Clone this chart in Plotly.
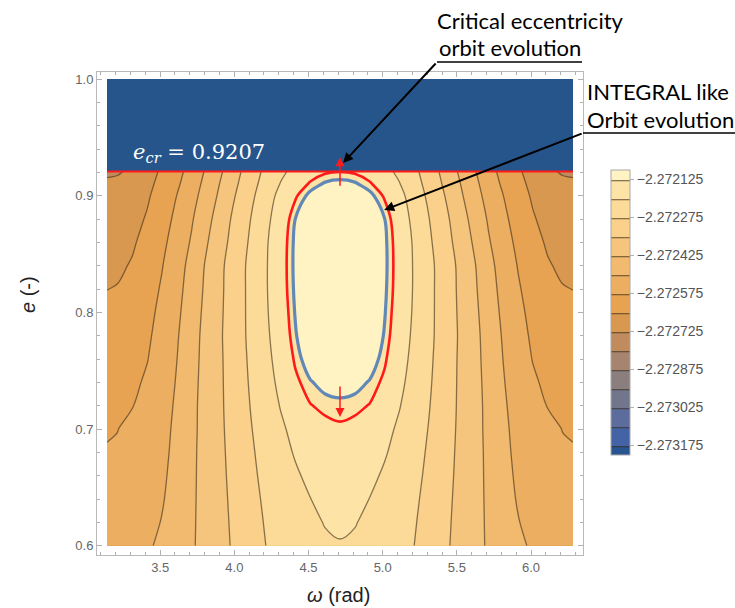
import numpy as np
import plotly.graph_objects as go

# ---------------------------------------------------------------------------
# Averaged orbital energy map H(omega, e) for an INTEGRAL-like orbit.
# The map is symmetric about omega = 3*pi/2, so only the half omega >= 3pi/2
# is tabulated (offset from the symmetry axis); the other half is its mirror.
# Energy is tabulated in contour steps below the top contour value H_MAX.
# ---------------------------------------------------------------------------
E_CRIT = 0.9207
OMEGA_AXIS = 1.5 * np.pi
H_MAX = -2.27205
H_STEP = 0.000075

HALF_OFFSETS = [0.0, 0.1, 0.2, 0.3, 0.4, 0.5, 0.6, 0.7, 0.8, 0.9,
                1.0, 1.1, 1.2, 1.3, 1.4, 1.5, np.pi / 2]

ECC = [0.60, 0.62, 0.64, 0.66, 0.68, 0.70, 0.72, 0.74, 0.76,
       0.78, 0.80, 0.82, 0.84, 0.86, 0.88, 0.90, 0.91, 0.9207]

STEPS_BELOW_MAX = [
    [2.04, 2.08, 2.21, 2.41, 2.68, 3.00, 3.40, 3.82, 4.26, 4.69, 5.10, 5.50, 5.84, 6.11, 6.31, 6.42, 6.44],
    [1.90, 1.975, 2.11, 2.32, 2.60, 2.93, 3.34, 3.78, 4.23, 4.68, 5.12, 5.57, 5.96, 6.28, 6.50, 6.63, 6.65],
    [1.75, 1.82, 2.01, 2.22, 2.51, 2.85, 3.27, 3.73, 4.20, 4.67, 5.14, 5.64, 6.07, 6.41, 6.66, 6.80, 6.82],
    [1.59, 1.65, 1.83, 2.10, 2.40, 2.76, 3.19, 3.67, 4.17, 4.66, 5.16, 5.70, 6.15, 6.49, 6.74, 6.87, 6.90],
    [1.43, 1.49, 1.66, 1.93, 2.26, 2.66, 3.12, 3.62, 4.14, 4.65, 5.18, 5.76, 6.22, 6.56, 6.80, 6.94, 6.97],
    [1.28, 1.34, 1.50, 1.77, 2.13, 2.55, 3.04, 3.57, 4.11, 4.65, 5.21, 5.81, 6.28, 6.63, 6.87, 7.01, 7.04],
    [1.09, 1.13, 1.24, 1.55, 1.96, 2.43, 2.96, 3.52, 4.09, 4.64, 5.23, 5.87, 6.36, 6.75, 7.02, 7.17, 7.20],
    [0.82, 0.87, 1.03, 1.31, 1.80, 2.33, 2.89, 3.48, 4.08, 4.66, 5.27, 5.94, 6.46, 6.88, 7.17, 7.34, 7.37],
    [0.47, 0.55, 0.78, 1.15, 1.66, 2.24, 2.83, 3.45, 4.07, 4.67, 5.33, 6.01, 6.58, 7.03, 7.35, 7.54, 7.58],
    [0.33, 0.41, 0.65, 1.03, 1.55, 2.16, 2.78, 3.41, 4.05, 4.69, 5.38, 6.09, 6.67, 7.14, 7.47, 7.65, 7.69],
    [0.26, 0.34, 0.58, 0.97, 1.49, 2.10, 2.76, 3.42, 4.08, 4.74, 5.48, 6.19, 6.78, 7.25, 7.59, 7.78, 7.82],
    [0.23, 0.31, 0.55, 0.93, 1.44, 2.07, 2.75, 3.43, 4.11, 4.81, 5.58, 6.30, 6.90, 7.40, 7.76, 7.96, 8.01],
    [0.21, 0.29, 0.53, 0.91, 1.43, 2.07, 2.75, 3.44, 4.14, 4.88, 5.69, 6.42, 7.04, 7.56, 7.93, 8.14, 8.19],
    [0.22, 0.30, 0.54, 0.92, 1.45, 2.10, 2.85, 3.57, 4.31, 5.08, 5.90, 6.59, 7.21, 7.73, 8.10, 8.31, 8.35],
    [0.30, 0.38, 0.61, 0.99, 1.54, 2.22, 2.98, 3.71, 4.49, 5.30, 6.09, 6.78, 7.40, 7.92, 8.28, 8.49, 8.53],
    [0.56, 0.64, 0.89, 1.27, 1.75, 2.41, 3.21, 3.95, 4.76, 5.57, 6.33, 6.99, 7.61, 8.11, 8.46, 8.66, 8.72],
    [0.88, 0.95, 1.16, 1.51, 1.96, 2.61, 3.34, 4.10, 4.90, 5.71, 6.47, 7.15, 7.73, 8.23, 8.60, 8.81, 8.85],
    [1.23, 1.28, 1.46, 1.75, 2.18, 2.78, 3.48, 4.25, 5.07, 5.87, 6.63, 7.30, 7.85, 8.41, 8.84, 9.09, 9.14],
]

# Highlighted orbits, in contour steps below H_MAX
INTEGRAL_ORBIT_STEPS = 1.0
CRITICAL_ORBIT_STEPS = 1.22

CBAR_TICKS = [-2.272125, -2.272275, -2.272425, -2.272575,
              -2.272725, -2.272875, -2.273025, -2.273175]

# band colours, lowest energy first
BAND_COLORS = ["#28558f", "#4463a6", "#5b6c9d", "#72768d", "#8b7e7e", "#a6846f",
               "#c08c5e", "#d9984f", "#e8a352", "#ecae61", "#f1ba6e", "#f6c57d",
               "#fad08a", "#fcda97", "#fde4a6", "#fff3c4"]

# ---------------------------------------------------------------------------
omega = ([OMEGA_AXIS - d for d in HALF_OFFSETS[:0:-1]] +
         [OMEGA_AXIS + d for d in HALF_OFFSETS])
steps = np.array([row[:0:-1] + row for row in STEPS_BELOW_MAX])
H = H_MAX - H_STEP * steps

lowest_level = CBAR_TICKS[-1]
highest_level = CBAR_TICKS[0]
n_bands = len(BAND_COLORS)
colorscale = [[i / (n_bands - 1), c] for i, c in enumerate(BAND_COLORS)]

# plot-area geometry in page pixels (used to place paper-referenced items)
PL, PR, PT, PB = 97, 583, 72, 555
PW, PH = PR - PL, PB - PT


def px(x):
    return (x - PL) / PW


def py(y):
    return (PB - y) / PH


fig = go.Figure()

fig.add_trace(go.Contour(
    x=omega, y=ECC, z=H,
    autocontour=False,
    contours=dict(start=lowest_level, end=highest_level + H_STEP * 0.05,
                  size=H_STEP, coloring="fill", showlines=True),
    colorscale=colorscale,
    line=dict(color="rgba(60,45,25,0.6)", width=1.3, smoothing=1),
    hoverinfo="skip",
    colorbar=dict(
        x=px(611), xanchor="left", xpad=0,
        y=py(312.5), yanchor="middle", ypad=0,
        len=285, lenmode="pixels", thickness=19,
        outlinewidth=1, outlinecolor="#a8a8a8",
        tickvals=CBAR_TICKS, tickformat=".6f",
        ticks="outside", ticklen=4, tickcolor="#b0b0b0",
        tickfont=dict(family="Liberation Sans, Arial", size=14, color="#555555"),
    ),
))

for level_steps, color, width in [(CRITICAL_ORBIT_STEPS, "#ff1a1a", 2.6),
                                   (INTEGRAL_ORBIT_STEPS, "#6288b8", 3.2)]:
    level = H_MAX - H_STEP * level_steps
    fig.add_trace(go.Contour(
        x=omega, y=ECC, z=H,
        autocontour=False,
        contours=dict(start=level, end=level, size=H_STEP, coloring="none",
                      showlines=True),
        line=dict(color=color, width=width, smoothing=1),
        showscale=False, hoverinfo="skip",
    ))

# region beyond the critical eccentricity
fig.add_shape(type="rect", xref="x", yref="y", x0=np.pi, x1=2 * np.pi,
              y0=E_CRIT, y1=1.0, fillcolor="#26558b", line=dict(width=0),
              layer="above")
fig.add_shape(type="line", xref="x", yref="y", x0=np.pi, x1=2 * np.pi,
              y0=E_CRIT, y1=E_CRIT, line=dict(color="#ff1a1a", width=2),
              layer="above")

# callout underlines
fig.add_shape(type="line", xref="paper", yref="paper",
              x0=px(437), x1=px(582), y0=py(62), y1=py(62),
              line=dict(color="black", width=1.5))
fig.add_shape(type="line", xref="paper", yref="paper",
              x0=px(583), x1=px(735), y0=py(133), y1=py(133),
              line=dict(color="black", width=1.5))

callout_font = dict(family="Lato, Liberation Sans", size=22, color="black")
callouts = [
    ("Critical eccentricity", 435, 21),
    ("orbit evolution", 437, 48),
    ("INTEGRAL like", 585, 91),
    ("Orbit evolution", 585, 120),
]
for text, cx, cy in callouts:
    fig.add_annotation(text=text, x=px(cx), y=py(cy), xref="paper", yref="paper",
                       xanchor="left", yanchor="middle", showarrow=False,
                       font=callout_font)

# callout arrows
fig.add_annotation(x=4.733, y=0.928, xref="x", yref="y", text="",
                   ax=94, ay=-101, axref="pixel", ayref="pixel",
                   showarrow=True, arrowhead=2, arrowsize=1, arrowwidth=2,
                   arrowcolor="black")
fig.add_annotation(x=5.01, y=0.8877, xref="x", yref="y", text="",
                   ax=199, ay=-77, axref="pixel", ayref="pixel",
                   showarrow=True, arrowhead=2, arrowsize=1, arrowwidth=2,
                   arrowcolor="black")

# red eccentricity-excursion arrows on the symmetry axis
fig.add_annotation(x=OMEGA_AXIS, y=0.933, xref="x", yref="y", text="",
                   ax=0, ay=30, showarrow=True, arrowhead=2, arrowsize=1.2,
                   arrowwidth=1.5, arrowcolor="#ff1a1a")
fig.add_annotation(x=OMEGA_AXIS, y=0.7103, xref="x", yref="y", text="",
                   ax=0, ay=-32, showarrow=True, arrowhead=2, arrowsize=1.2,
                   arrowwidth=1.5, arrowcolor="#ff1a1a")

fig.add_annotation(text="<i>e</i><sub><i>cr</i></sub> = 0.9207",
                   x=px(199), y=py(153), xref="paper", yref="paper",
                   xanchor="center", yanchor="middle", showarrow=False,
                   font=dict(family="DejaVu Serif", size=21, color="white"))

# axis titles
fig.add_annotation(text="<i>ω</i> (rad)", x=px(338), y=py(595),
                   xref="paper", yref="paper", xanchor="center",
                   yanchor="middle", showarrow=False,
                   font=dict(family="Liberation Sans, Arial", size=20, color="#222222"))
fig.add_annotation(text="<i>e</i> (-)", x=px(28), y=py(295),
                   xref="paper", yref="paper", xanchor="center",
                   yanchor="middle", showarrow=False, textangle=-90,
                   font=dict(family="Liberation Sans, Arial", size=20, color="#222222"))

axis_common = dict(showline=True, linecolor="#b9b9b9", linewidth=1,
                   mirror="allticks", ticks="inside", ticklen=5,
                   tickcolor="#b0b0b0", showgrid=False, zeroline=False,
                   tickfont=dict(family="Liberation Sans, Arial", size=13,
                                 color="#666666"))

fig.update_xaxes(range=[np.pi - 10 / 148.4, 2 * np.pi + 10 / 148.4],
                 tick0=3.5, dtick=0.5, tickformat=".1f",
                 minor=dict(dtick=0.1, ticks="inside", ticklen=3,
                            tickcolor="#b0b0b0"),
                 **axis_common)
fig.update_yaxes(range=[0.592, 1.006], tick0=0.6, dtick=0.1, tickformat=".1f",
                 minor=dict(dtick=0.02, ticks="inside", ticklen=3,
                            tickcolor="#b0b0b0"),
                 **axis_common)

fig.update_layout(
    width=735, height=608,
    margin=dict(l=PL, r=735 - PR, t=PT, b=608 - PB),
    paper_bgcolor="white", plot_bgcolor="white",
    showlegend=False,
    font=dict(family="Liberation Sans, Arial"),
)

fig.write_html("out.html")
